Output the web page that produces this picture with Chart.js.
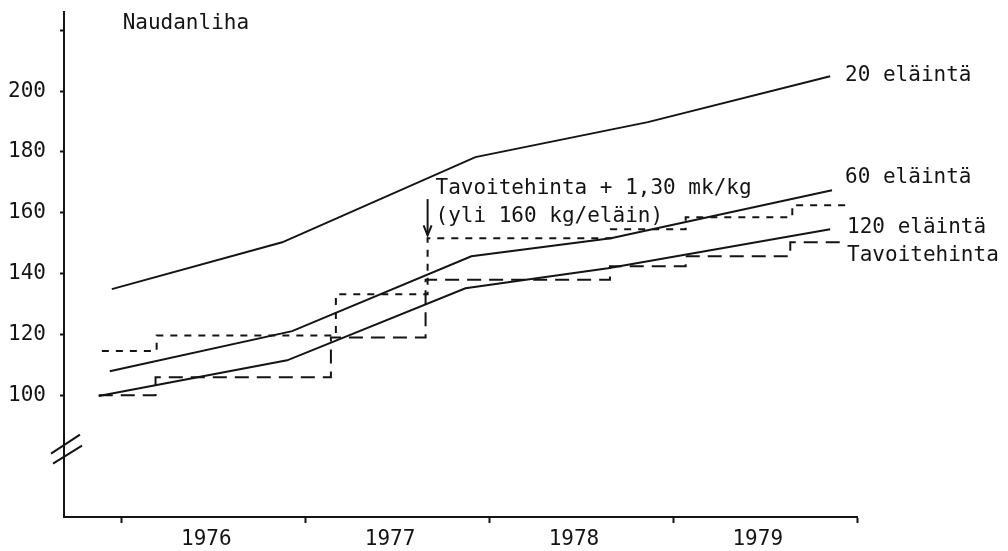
<!DOCTYPE html>
<html>
<head>
<meta charset="utf-8">
<script src="https://cdn.jsdelivr.net/npm/chart.js@4.4.1/dist/chart.umd.min.js"></script>
<style>
html,body{margin:0;padding:0;background:#fff}
</style>
</head>
<body>
<canvas id="c" width="1008" height="551"></canvas>
<script>
// y-akseli ja vuodet
const valueTicks=[100,120,140,160,180,200,220];
const yearTicks=[1976,1977,1978,1979,1980];
const yearLabels=['1976','1977','1978','1979'];

// tuotantokustannus, mk/kg, kolme tilakokoa
const x20=[1975.946,1976.873,1977.924,1978.862,1979.854];
const y20=[134.9,150.3,178.3,189.8,204.9];
const x60=[1975.935,1976.927,1977.902,1978.661,1979.864];
const y60=[107.9,121.1,145.7,151.6,167.4];
const x120=[1975.875,1976.9,1977.87,1978.645,1979.854];
const y120=[99.8,111.5,135.2,141.8,154.6];

// tavoitehinta ja tavoitehinta + 1,30 mk/kg (portaat)
const tavX=[1975.875,1976.184,1977.138,1977.653,1978.656,1979.068,1979.637,1979.919];
const tavY=[100,105.9,119,138,142.4,145.7,150.3,150.3];
const plusX=[1975.892,1976.19,1977.165,1977.664,1978.661,1979.068,1979.648,1979.957];
const plusY=[114.6,119.7,133.2,151.6,154.6,158.5,162.5,162.5];

const FONT='"DejaVu Sans Mono", monospace';
const FS=21;
const INK='#141414';
const pts=(xs,ys)=>xs.map((x,i)=>({x:x,y:ys[i]}));

const notes=[
  {text:'Naudanliha',x:1976.005,y:222.7},
  {text:'20 eläintä',x:1979.935,y:205.9},
  {text:'60 eläintä',x:1979.935,y:172.4},
  {text:'120 eläintä',x:1979.946,y:155.9},
  {text:'Tavoitehinta',x:1979.946,y:146.7},
  {text:'Tavoitehinta + 1,30 mk/kg',x:1977.707,y:168.75},
  {text:'(yli 160 kg/eläin)',x:1977.707,y:159.5}
];
const arrow={x:1977.664,from:164.5,to:152.6};
const breakAt=81.5;

const extras={
  id:'extras',
  afterDraw(ch){
    const c=ch.ctx,xs=ch.scales.x,ys=ch.scales.y;
    c.save();
    c.fillStyle=INK;c.strokeStyle=INK;
    c.font=FS+'px '+FONT;c.textBaseline='middle';c.textAlign='left';
    // +2: middle-baseline istuu hieman ylhäällä
    notes.forEach(n=>c.fillText(n.text,xs.getPixelForValue(n.x),ys.getPixelForValue(n.y)+2));
    // nuoli
    const ax=xs.getPixelForValue(arrow.x),a0=ys.getPixelForValue(arrow.from),a1=ys.getPixelForValue(arrow.to);
    c.lineWidth=2;
    c.beginPath();c.moveTo(ax,a0);c.lineTo(ax,a1);c.stroke();
    c.beginPath();c.moveTo(ax-4,a1-10);c.lineTo(ax,a1);c.lineTo(ax+4,a1-10);c.stroke();
    // akselin katko
    const bx=ch.chartArea.left,by=ys.getPixelForValue(breakAt);
    c.beginPath();
    c.moveTo(bx-13,by+2);c.lineTo(bx+16,by-17);
    c.moveTo(bx-11,by+12);c.lineTo(bx+18,by-6);
    c.stroke();
    c.restore();
  }
};

const line=(data,dash,stepped)=>({
  data:data,borderColor:INK,borderWidth:2,pointRadius:0,tension:0,
  borderDash:dash||[],stepped:stepped||false,fill:false,clip:false
});

new Chart(document.getElementById('c'),{
  type:'line',
  data:{datasets:[
    line(pts(x20,y20)),
    line(pts(x60,y60)),
    line(pts(x120,y120)),
    line(pts(tavX,tavY),[14,8],'before'),
    line(pts(plusX,plusY),[7,7],'before')
  ]},
  options:{
    responsive:false,animation:false,devicePixelRatio:1,
    layout:{padding:{left:0,right:151,top:12,bottom:0}},
    plugins:{legend:{display:false},tooltip:{enabled:false}},
    scales:{
      x:{
        type:'linear',min:1975.686,max:1980,
        afterBuildTicks(s){
          s.ticks=yearTicks.map(v=>({value:v})).concat(yearLabels.map(l=>({value:+l+0.46})))
            .sort((a,b)=>a.value-b.value);
        },
        afterFit(s){s.height=34;s.paddingLeft=0;s.paddingRight=0},
        border:{display:true,color:INK,width:2},
        grid:{display:true,drawOnChartArea:false,drawTicks:true,tickLength:6,tickWidth:2,
          tickColor:ctx=>Number.isInteger(ctx.tick&&ctx.tick.value)?INK:'rgba(0,0,0,0)'},
        ticks:{autoSkip:false,maxRotation:0,padding:4,color:INK,font:{family:FONT,size:FS},
          callback:v=>Number.isInteger(v)?'':String(Math.floor(v))}
      },
      y:{
        type:'linear',min:60,max:226,
        afterBuildTicks(s){s.ticks=valueTicks.map(v=>({value:v}))},
        afterFit(s){s.width=64;s.paddingTop=0;s.paddingBottom=0},
        border:{display:true,color:INK,width:2},
        grid:{display:true,drawOnChartArea:false,drawTicks:true,tickLength:4,tickWidth:2,tickColor:INK},
        ticks:{padding:14,color:INK,font:{family:FONT,size:FS},
          callback:v=>v<=200?String(v):''}
      }
    }
  },
  plugins:[extras]
});
</script>
</body>
</html>
